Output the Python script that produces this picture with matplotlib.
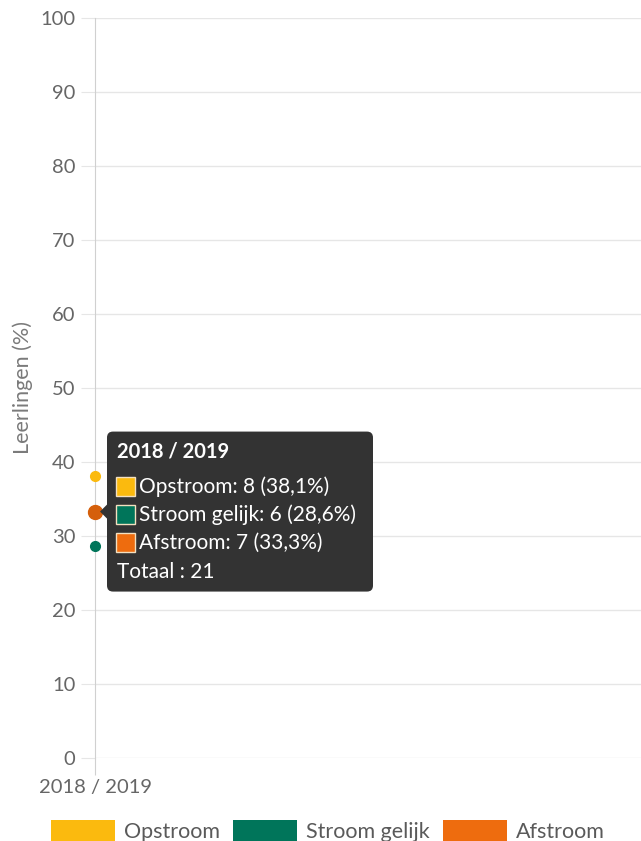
import matplotlib
matplotlib.use("Agg")
import matplotlib.pyplot as plt
from matplotlib.patches import FancyBboxPatch, Polygon, Rectangle, Patch
from matplotlib.transforms import IdentityTransform

plt.rcParams['font.family'] = ['Lato', 'DejaVu Sans']

# data
jaren = ['2018 / 2019']
reeksen = ['Opstroom', 'Stroom gelijk', 'Afstroom']
aantallen = [8, 6, 7]
percentages = [38.1, 28.6, 33.3]
kleuren = ['#FBBA0E', '#00755A', '#EE6C0E']
totaal = 21

W, H = 641, 841
fig = plt.figure(figsize=(W / 100, H / 100), dpi=100)
ax = fig.add_axes([95 / W, (H - 758) / H, (W - 95) / W, 740 / H])

# punten (Afstroom is 'gehoverd')
for naam, p, k in zip(reeksen, percentages, kleuren):
    if naam == 'Afstroom':
        ax.plot(0, p, 'o', color='#D55F0B', markersize=10, zorder=5, clip_on=False)
    else:
        ax.plot(0, p, 'o', color=k, markersize=7, zorder=5, clip_on=False)

ax.set_xlim(0, 1)
ax.set_ylim(0, 100)
ax.set_yticks(range(0, 101, 10))
ax.set_xticks([0])
ax.set_xticklabels(jaren)
ax.grid(axis='y', color='#e6e6e6', linewidth=1)
ax.set_axisbelow(True)
for s in ['top', 'right', 'bottom']:
    ax.spines[s].set_visible(False)
ax.spines['left'].set_color('#d0d0d0')
ax.tick_params(axis='y', length=10, color='#e6e6e6', labelsize=14.5, labelcolor='#666666', pad=4)
ax.tick_params(axis='x', length=12, color='#d0d0d0', labelsize=14.5, labelcolor='#666666', pad=3)
ax.set_ylabel('Leerlingen (%)', fontsize=15.5, color='#7a7a7a')
ax.yaxis.set_label_coords(-(95 - 33) / (W - 95), 0.5)

# tooltip
fig.canvas.draw()
px, py = ax.transData.transform((0, percentages[2]))
ident = IdentityTransform()
x0, bw, bh = px + 12, 266, 160
box = FancyBboxPatch((x0, py - bh / 2), bw, bh, boxstyle='round,pad=0,rounding_size=6',
                     facecolor='#333333', edgecolor='none', transform=ident, zorder=10,
                     clip_on=False)
fig.add_artist(box)
pijl = Polygon([(x0 + 1, py + 8), (px + 5, py), (x0 + 1, py - 8)], closed=True,
               facecolor='#333333', edgecolor='none', transform=ident, zorder=10)
fig.add_artist(pijl)
fig.text(x0 + 10, py + 60, jaren[0], transform=ident, color='white', fontsize=14.5,
         fontweight='bold', va='center', ha='left', zorder=11)
rij_y = [py + 25, py - 3, py - 31]
for naam, n, p, k, yy in zip(reeksen, aantallen, percentages, kleuren, rij_y):
    fig.add_artist(Rectangle((x0 + 9, yy - 9), 19, 19, facecolor=k, edgecolor='#f3e0c0',
                             linewidth=1, transform=ident, zorder=11))
    fig.text(x0 + 32, yy, f'{naam}: {n} ({p:.1f}%)'.replace('.', ','), transform=ident,
             color='white', fontsize=15, va='center', ha='left', zorder=11)
fig.text(x0 + 10, py - 60, f'Totaal : {totaal}', transform=ident, color='white',
         fontsize=15, va='center', ha='left', zorder=11)

# legenda
handles = [Patch(facecolor=k, edgecolor='none') for k in kleuren]
fig.legend(handles, reeksen, loc='center', ncol=3, frameon=False,
           bbox_to_anchor=(328 / W, 1 - 831 / H), fontsize=15.5, handlelength=2.98,
           handleheight=1.15, handletextpad=0.42, columnspacing=0.6, labelcolor='#5a5a5a',
           borderpad=0, borderaxespad=0)

fig.savefig('out.png', dpi=100)
